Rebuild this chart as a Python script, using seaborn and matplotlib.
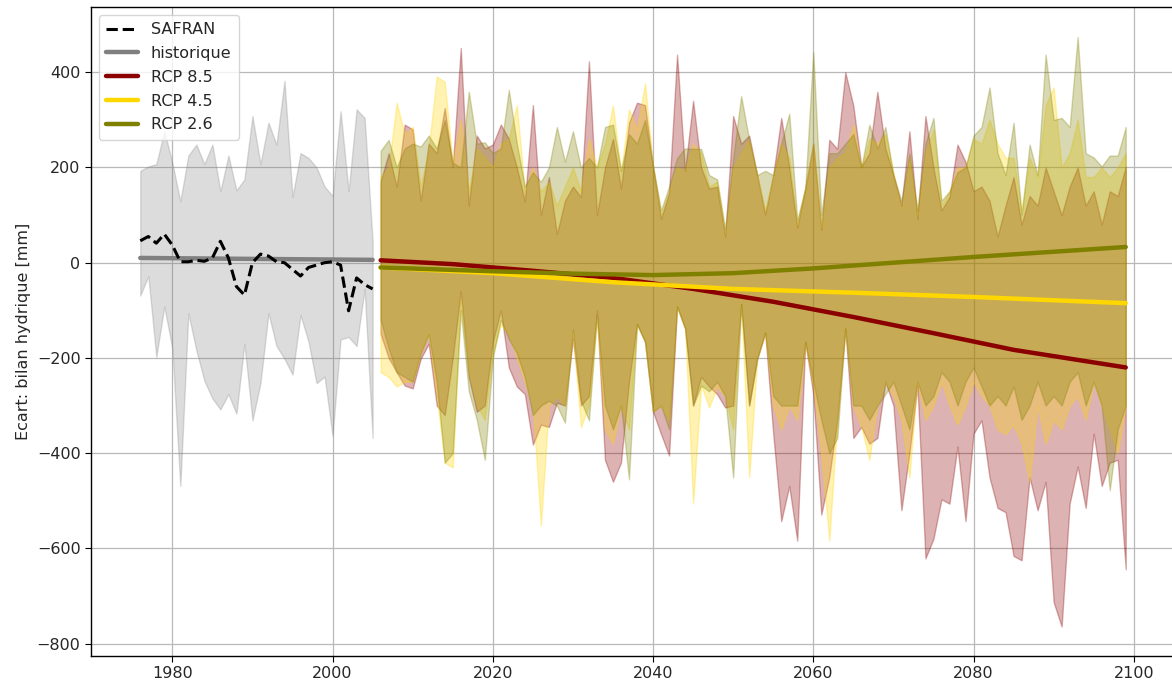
import numpy as np
import pandas as pd
import seaborn as sns
import matplotlib
matplotlib.use("Agg")
import matplotlib.pyplot as plt

# --- historical period (1976-2005) ---
hist_years = list(range(1976, 2006))
safran = [46, 55, 41, 60, 37, 2, 2, 5, 3, 10, 45, 10, -50, -68, 0,
          18, 14, 2, 0, -14, -28, -10, -5, 0, 2, -5, -101, -32, -46, -55]
hist_hi = [193, 202, 207, 276, 210, 129, 225, 248, 207, 248, 150, 225, 152, 175, 308,
           207, 294, 248, 382, 138, 230, 220, 200, 160, 140, 318, 150, 322, 304, 46]
hist_lo = [-69, -28, -198, -92, -180, -469, -106, -184, -248, -285, -308, -276, -317, -170, -331,
           -253, -106, -175, -202, -235, -110, -166, -253, -239, -363, -161, -156, -175, -55, -368]
hist_trend_years = [1976, 1990, 2005]
hist_trend = [10, 8, 6]

# --- projections (2006-2099) ---
proj_years = list(range(2006, 2100))

rcp85_hi = [170, 230, 160, 290, 280, 130, 250, 230, 325, 200,
            451, 120, 267, 240, 248, 290, 260, 200, 129, 331,
            100, 180, 60, 130, 160, 138, 423, 100, 200, 260,
            156, 294, 336, 331, 202, 92, 147, 437, 193, 340,
            200, 156, 160, 55, 308, 250, 267, 184, 101, 184,
            304, 200, 74, 156, 250, 69, 258, 239, 400, 330,
            202, 230, 359, 240, 184, 120, 276, 92, 308, 200,
            110, 138, 248, 212, 150, 160, 130, 55, 120, 180,
            80, 140, 120, 200, 150, 100, 160, 200, 120, 150,
            80, 150, 140, 202]
rcp85_lo = [-150, -200, -230, -258, -264, -202, -170, -300, -320, -200,
            -60, -240, -313, -300, -166, -100, -220, -260, -276, -382,
            -340, -345, -294, -300, -160, -300, -280, -100, -414, -460,
            -420, -250, -129, -166, -313, -360, -405, -92, -138, -300,
            -240, -260, -276, -304, -300, -87, -300, -202, -147, -359,
            -543, -469, -584, -166, -276, -529, -450, -330, -138, -368,
            -345, -380, -368, -250, -300, -520, -400, -258, -621, -580,
            -497, -506, -386, -543, -359, -331, -451, -515, -524, -616,
            -625, -451, -520, -460, -713, -764, -506, -428, -515, -359,
            -469, -420, -414, -644]

rcp45_hi = [180, 200, 336, 270, 285, 160, 240, 391, 380, 210,
            300, 150, 240, 220, 200, 250, 260, 331, 150, 200,
            150, 170, 120, 160, 200, 150, 260, 200, 250, 330,
            190, 322, 280, 377, 202, 100, 150, 200, 193, 250,
            230, 160, 170, 60, 200, 230, 258, 184, 110, 184,
            250, 220, 80, 160, 250, 75, 200, 220, 230, 290,
            200, 260, 250, 270, 190, 110, 220, 100, 230, 280,
            120, 150, 200, 200, 260, 250, 300, 250, 220, 220,
            110, 220, 180, 330, 368, 200, 230, 300, 180, 180,
            200, 180, 200, 230]
rcp45_lo = [-230, -240, -260, -250, -250, -190, -150, -280, -420, -430,
            -80, -230, -300, -330, -190, -130, -150, -200, -250, -300,
            -552, -300, -280, -300, -150, -345, -300, -120, -350, -380,
            -300, -350, -129, -166, -313, -300, -330, -92, -138, -506,
            -258, -304, -260, -280, -350, -87, -451, -202, -147, -300,
            -350, -300, -330, -166, -260, -400, -584, -330, -138, -300,
            -345, -414, -300, -250, -280, -330, -451, -250, -330, -300,
            -250, -300, -340, -300, -250, -280, -300, -350, -360, -340,
            -380, -460, -300, -380, -330, -350, -300, -280, -330, -250,
            -300, -350, -400, -300]

rcp26_hi = [235, 258, 200, 240, 250, 244, 267, 240, 300, 210,
            200, 359, 250, 253, 230, 240, 363, 250, 160, 190,
            170, 200, 285, 212, 276, 200, 220, 200, 285, 290,
            193, 270, 250, 300, 202, 110, 160, 220, 240, 239,
            239, 184, 175, 70, 220, 350, 258, 184, 193, 184,
            250, 313, 90, 156, 442, 100, 230, 230, 250, 270,
            200, 290, 240, 285, 184, 130, 230, 110, 250, 304,
            130, 150, 190, 200, 267, 285, 368, 230, 184, 294,
            101, 248, 184, 437, 300, 304, 285, 474, 230, 221,
            202, 225, 225, 285]
rcp26_lo = [-120, -180, -230, -240, -250, -190, -150, -250, -420, -400,
            -100, -270, -330, -414, -200, -120, -160, -190, -240, -320,
            -300, -290, -300, -336, -140, -290, -331, -110, -300, -350,
            -300, -455, -129, -166, -313, -300, -350, -92, -138, -300,
            -258, -270, -250, -280, -451, -87, -300, -202, -147, -280,
            -300, -300, -300, -166, -250, -330, -400, -368, -138, -300,
            -300, -330, -300, -276, -250, -300, -350, -250, -300, -280,
            -230, -250, -300, -250, -220, -260, -300, -280, -300, -260,
            -330, -300, -250, -300, -280, -300, -250, -230, -300, -250,
            -300, -478, -350, -300]

# smoothed ensemble means, read at a few years
rcp85_trend_years = [2006, 2015, 2025, 2035, 2045, 2055, 2065, 2075, 2085, 2099]
rcp85_trend = [5, -3, -17, -32, -55, -82, -114, -148, -183, -220]
rcp45_trend_years = [2006, 2020, 2035, 2050, 2065, 2080, 2099]
rcp45_trend = [-10, -22, -41, -55, -63, -72, -85]
rcp26_trend_years = [2006, 2020, 2030, 2040, 2050, 2060, 2070, 2080, 2090, 2099]
rcp26_trend = [-10, -18, -23, -26, -22, -12, 0, 12, 23, 33]

scenarios = [
    ("RCP 8.5", "darkred", rcp85_hi, rcp85_lo, rcp85_trend_years, rcp85_trend),
    ("RCP 4.5", "gold", rcp45_hi, rcp45_lo, rcp45_trend_years, rcp45_trend),
    ("RCP 2.6", "olive", rcp26_hi, rcp26_lo, rcp26_trend_years, rcp26_trend),
]

sns.set_style("ticks")
plt.rcParams["font.family"] = ["DejaVu Sans"]
plt.rcParams["font.size"] = 11.5

fig = plt.figure(figsize=(11.72, 6.86), dpi=100)
ax = fig.add_axes([91 / 1172, 30 / 686, 1084 / 1172, 649 / 686])

# bands
ax.fill_between(hist_years, hist_lo, hist_hi, color="grey", alpha=0.27, zorder=1)
for name, col, hi, lo, ty, tv in scenarios:
    ax.fill_between(proj_years, lo, hi, color=col, alpha=0.3, zorder=1)

# lines
safran_df = pd.DataFrame({"annee": hist_years, "ecart": safran})
sns.lineplot(data=safran_df, x="annee", y="ecart", ax=ax, color="black",
             linestyle=(0, (3.7, 1.6)), linewidth=2.2, label="SAFRAN", zorder=4)
hist_df = pd.DataFrame({"annee": hist_trend_years, "ecart": hist_trend})
sns.lineplot(data=hist_df, x="annee", y="ecart", ax=ax, color="grey",
             linewidth=3.2, label="historique", zorder=3)
for name, col, hi, lo, ty, tv in scenarios:
    df = pd.DataFrame({"annee": ty, "ecart": tv})
    sns.lineplot(data=df, x="annee", y="ecart", ax=ax, color=col,
                 linewidth=3.2, label=name, zorder=5)

ax.set_xlim(1969.85, 2105.15)
ax.set_ylim(-826, 537)
ax.set_xticks([1980, 2000, 2020, 2040, 2060, 2080, 2100])
ax.set_yticks([-800, -600, -400, -200, 0, 200, 400])
ax.grid(True, color="#b8b8b8", linewidth=0.9)
ax.set_axisbelow(True)
for s in ax.spines.values():
    s.set_color("black")
    s.set_linewidth(1.0)
ax.tick_params(axis="both", labelsize=11.5, length=4, color="black")
ax.set_xlabel("")
ax.set_ylabel("Ecart: bilan hydrique [mm]", fontsize=11.5)

ax.legend(loc="upper left", fontsize=11.5, frameon=True, framealpha=0.8,
          handlelength=2.0, borderpad=0.45, labelspacing=0.55)

fig.savefig("out.png", dpi=100)
